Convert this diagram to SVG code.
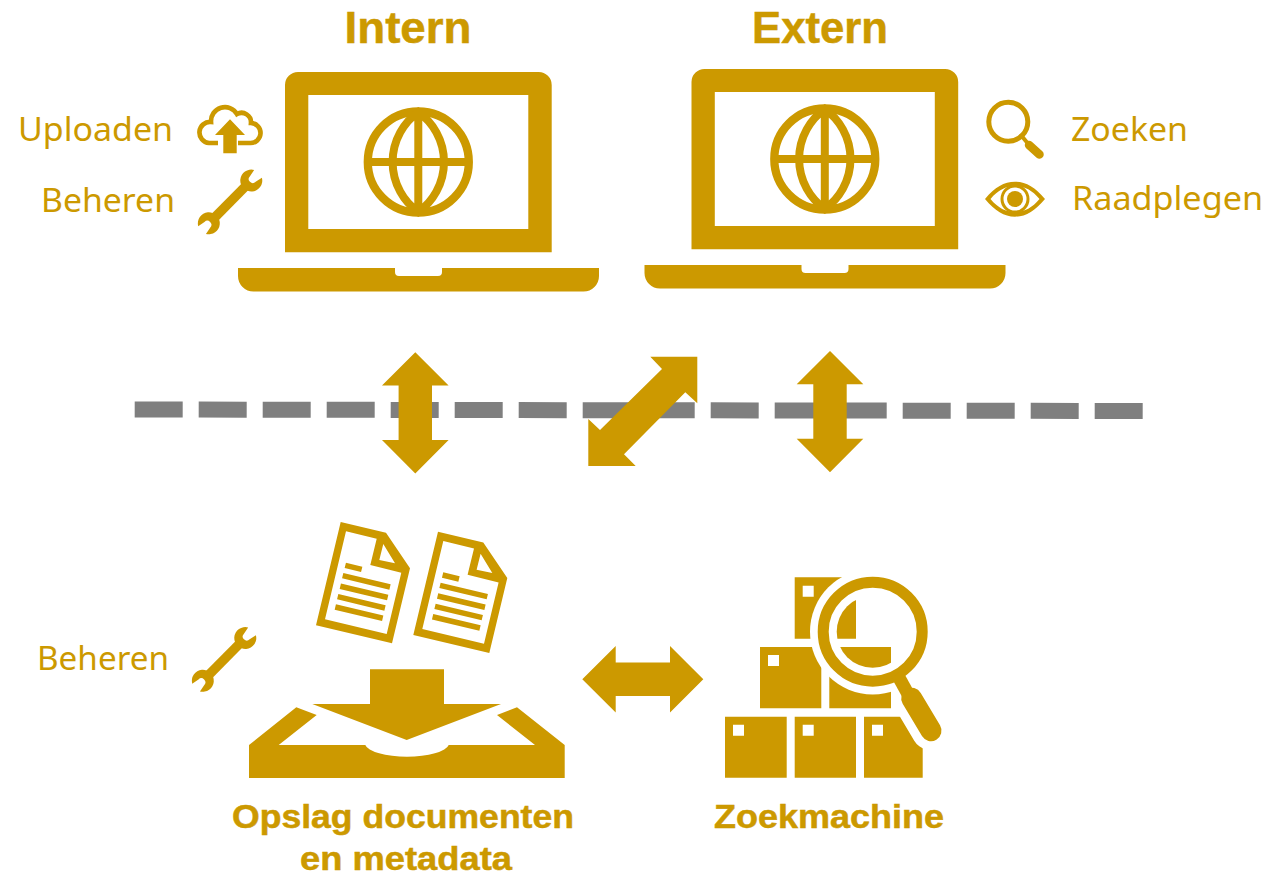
<svg xmlns="http://www.w3.org/2000/svg" width="1270" height="876" viewBox="0 0 1270 876">
<style>
text{font-family:"Noto Sans","Liberation Sans",sans-serif;fill:#CC9900}
.l{font-size:33px}
.b{font-family:"Liberation Sans",Arial,sans-serif;font-size:33px;font-weight:700;stroke:#CC9900;stroke-width:.5px}
.t{font-family:"Liberation Sans",Arial,sans-serif;font-size:45px;font-weight:700;stroke:#CC9900;stroke-width:.5px}
.f{fill:#CC9900}
.w{fill:#fff}
.s{fill:none;stroke:#CC9900}
</style>
<defs>
<g id="laptop">
<path class="f" fill-rule="evenodd" d="M285 252.300V85a13 13 0 0 1 13-13H538.700a13 13 0 0 1 13 13V252.300ZM308.300 95V229H528.300V95Z"/>
<path class="f" d="M238 268H395V272a4 4 0 0 0 4 4H438a4 4 0 0 0 4-4V268H599V276a15.500 15.500 0 0 1-15.500 15.500H253.500A15.500 15.500 0 0 1 238 276Z"/>
<circle class="s" cx="418.300" cy="162" r="50.500" stroke-width="8.300"/>
<path class="s" stroke-width="8" d="M368 162H468.500M418.300 112V212M418.300 112A61.500 61.500 0 0 0 418.300 212A61.500 61.500 0 0 0 418.300 112Z"/>
</g>
<path id="wrenchHead" class="f" d="M10.600-2.850A11 11 0 1 1 2.850-10.600L-1.330-4.330A4 4 0 0 0 4.330 1.330Z"/>
<g id="wrench">
<path class="s" stroke-width="9.500" d="M-4 4L-38.500 38.800"/>
<use href="#wrenchHead"/>
<use href="#wrenchHead" transform="translate(-42.500 42.800) rotate(180)"/>
</g>
<g id="doc">
<path class="f" fill-rule="evenodd" d="M340.700 522L386 532.700L410 568.300L392 643.300L316 625.300ZM346 531.300L325 619.300L386.700 634L401.300 572.700L370.300 565L376.700 538.700ZM383.300 544L379.300 560L395 563.300Z"/>
<path class="s" stroke-width="5.500" d="M345.300 565.300L361.700 569.300M342.700 575.700L390 587M340.300 586.300L387.700 597.500M337.700 596.700L385 608M335.300 607L382.700 618.300"/>
</g>
<g id="dbl">
<path class="f" d="M0-60.500L33.300-27.200H16.700V27.300H33.300L0 60.800L-33.300 27.300H-16.700V-27.200H-33.300Z"/>
</g>
<clipPath id="lens"><circle cx="872.700" cy="631.700" r="36"/></clipPath>
</defs>

<g id="connectors">
<path id="boundary" fill="none" stroke="#7F7F7F" stroke-width="16" stroke-dasharray="48 16" d="M134.700 409.500L1142.700 411"/>
<use href="#dbl" transform="translate(415.300 412.800)"/>
<use href="#dbl" transform="translate(830 411.500)"/>
<path class="f" d="M697.300 356.700H650.300L662 369L600 430L588.300 419V466H635.700L624 454.300L685.300 392.300L697.300 403.300Z"/>
<path class="f" d="M582.300 679.200L615.700 645.900V662.500H670V645.900L703.300 679.200L670 712.500V696H615.700V712.500Z"/>
</g>

<g id="intern">
<text class="t" x="408" y="43" text-anchor="middle" textLength="127" lengthAdjust="spacingAndGlyphs">Intern</text>
<use href="#laptop"/>
</g>
<g id="extern">
<text class="t" x="820" y="43" text-anchor="middle" textLength="136" lengthAdjust="spacingAndGlyphs">Extern</text>
<use href="#laptop" transform="translate(406.500 -3)"/>
</g>

<g id="uploaden">
<text class="l" x="18" y="141" textLength="155" lengthAdjust="spacingAndGlyphs">Uploaden</text>
<path class="s" stroke-width="4.700" d="M218 143H209A10.500 10.500 0 0 1 211 122A14 14 0 0 1 237 114A9.500 9.500 0 0 1 251 123A10 10 0 0 1 250 143H238"/>
<path class="f" d="M230 119.300L245 135H236.700V153.300H223.300V135H215Z"/>
</g>
<g id="beheren-intern">
<text class="l" x="41" y="212" textLength="134" lengthAdjust="spacingAndGlyphs">Beheren</text>
<use href="#wrench" transform="translate(251.300 180.500)"/>
</g>
<g id="zoeken">
<text class="l" x="1071" y="141" textLength="117" lengthAdjust="spacingAndGlyphs">Zoeken</text>
<circle class="s" cx="1008.300" cy="121.700" r="19.500" stroke-width="5"/>
<path class="s" stroke-width="4" d="M1020 134L1030 146"/>
<path class="s" stroke-width="8.500" stroke-linecap="round" d="M1029 145L1039.500 154.500"/>
</g>
<g id="raadplegen">
<text class="l" x="1072" y="210" textLength="191" lengthAdjust="spacingAndGlyphs">Raadplegen</text>
<path class="f" fill-rule="evenodd" d="M985 199C995 187 1004 181.700 1015 181.700C1026 181.700 1035 187 1045 199C1035 211 1026 216.700 1015 216.700C1004 216.700 995 211 985 199ZM990.500 199C998 208 1006 212 1015 212C1024 212 1032 208 1039.500 199C1032 190 1024 186 1015 186C1006 186 998 190 990.500 199Z"/>
<circle class="s" cx="1015" cy="199" r="13" stroke-width="3"/>
<circle class="f" cx="1015" cy="199" r="8"/>
</g>

<g id="opslag">
<use href="#doc"/>
<use href="#doc" transform="translate(97.300 9.700)"/>
<path class="f" d="M370 669.300H444V704H501L406.700 740L312.300 704H370Z"/>
<path class="f" d="M249 745L296.300 707.300L316.700 715L278.700 745H365.300A42 13.300 0 0 0 448.700 745H535L497 715L517 707.300L564.700 745V778H249Z"/>
<text class="b" x="403" y="827.500" text-anchor="middle" textLength="342" lengthAdjust="spacingAndGlyphs">Opslag documenten</text>
<text class="b" x="406" y="870" text-anchor="middle" textLength="212" lengthAdjust="spacingAndGlyphs">en metadata</text>
</g>
<g id="beheren-opslag">
<text class="l" x="37" y="670" textLength="132" lengthAdjust="spacingAndGlyphs">Beheren</text>
<use href="#wrench" transform="translate(245.300 638)"/>
</g>

<g id="zoekmachine">
<path class="f" d="M725 716.700H786.700V777.700H725ZM794.700 716.700H856V777.700H794.700ZM864 716.700H922.700V777.700H864ZM760 647H821.300V708.300H760ZM829.300 647H891V708.300H829.300ZM794.700 577.300H856V638.700H794.700Z"/>
<path class="w" d="M733 724.700h11v11h-11ZM802.700 724.700h11v11h-11ZM872 724.700h11v11h-11ZM768 655h11v11h-11ZM802.700 585.700h11v11h-11Z"/>
<circle class="w" cx="872.700" cy="631.700" r="62.700"/>
<path fill="none" stroke="#fff" stroke-width="39" stroke-linecap="round" d="M911.700 698.300L931 730.700"/>
<path class="f" clip-path="url(#lens)" d="M794.700 577.300H856V638.700H794.700ZM829.300 647H891V708.300H829.300Z"/>
<circle class="s" cx="872.700" cy="631.700" r="49.500" stroke-width="11"/>
<path class="s" stroke-width="13" d="M897 674L908 694"/>
<path class="s" stroke-width="21" stroke-linecap="round" d="M911.700 698.300L931 730.700"/>
<text class="b" x="829" y="827.500" text-anchor="middle" textLength="230" lengthAdjust="spacingAndGlyphs">Zoekmachine</text>
</g>
</svg>
